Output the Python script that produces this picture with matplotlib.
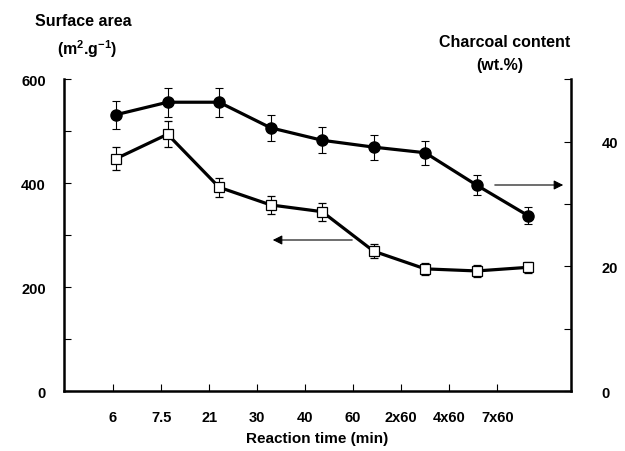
import numpy as np
import matplotlib
matplotlib.use("Agg")
import matplotlib.pyplot as plt

plt.rcParams['font.family'] = ['Liberation Sans', 'DejaVu Sans']
plt.rcParams['font.weight'] = 'bold'
plt.rcParams['mathtext.fontset'] = 'custom'
plt.rcParams['mathtext.bf'] = 'Liberation Sans:bold'
plt.rcParams['mathtext.rm'] = 'Liberation Sans:bold'
plt.rcParams['mathtext.default'] = 'bf'

# data
time_labels = ["6", "7.5", "21", "30", "40", "60", "2x60", "4x60", "7x60"]
surface_area = [447, 494, 392, 358, 345, 269, 235, 231, 238]
surface_err = [22, 25, 18, 17, 17, 13, 11, 11, 11]
charcoal = [44.3, 46.3, 46.3, 42.2, 40.2, 39.1, 38.2, 33.0, 28.1]
charcoal_err = [2.25, 2.3, 2.3, 2.1, 2.1, 2.0, 1.9, 1.65, 1.4]

x = np.arange(len(time_labels))
# tick marks in the original sit on a slightly tighter grid than the points
tick_pos = -0.058 + 0.932 * x

fig = plt.figure(figsize=(6.25, 4.52), dpi=100)
ax = fig.add_axes([0.1024, 0.1327, 0.8112, 0.690])
ax2 = ax.twinx()

ax.errorbar(x, surface_area, yerr=surface_err, color='black', lw=2.3,
            marker='s', ms=6.5, mfc='white', mec='black', mew=0.9,
            ecolor='black', elinewidth=0.8, capsize=3, capthick=0.8, zorder=3)
ax2.errorbar(x, charcoal, yerr=charcoal_err, color='black', lw=2.3,
             marker='o', ms=8, mfc='black', mec='black',
             ecolor='black', elinewidth=0.8, capsize=3, capthick=0.8, zorder=3)

ax.set_xlim(-1.01, 8.83)
ax.set_ylim(0, 600)
ax2.set_ylim(0, 50)

fs = 10.5
ax.set_xticks(tick_pos)
ax.set_xticklabels(time_labels, fontsize=fs, fontweight='bold')
ax.set_yticks([0, 100, 200, 300, 400, 500, 600])
ax.set_yticklabels(["0", "", "200", "", "400", "", "600"], fontsize=fs, fontweight='bold')
ax2.set_yticks([0, 10, 20, 30, 40, 50])
ax2.set_yticklabels(["0", "", "20", "", "40", ""], fontsize=fs, fontweight='bold')

for a in (ax, ax2):
    a.spines['top'].set_visible(False)
    for s in a.spines.values():
        s.set_linewidth(1.8)
ax.spines['right'].set_visible(False)
ax2.spines['left'].set_visible(False)
ax2.spines['bottom'].set_visible(False)

ax.tick_params(axis='y', direction='in', length=5, width=0.8, pad=13)
ax.tick_params(axis='x', direction='in', length=5, width=0.8, pad=14)
ax2.tick_params(axis='y', direction='in', length=5, width=0.8, pad=22)

ax.set_xlabel("Reaction time (min)", fontsize=11, fontweight='bold', labelpad=5)

fig.text(0.133, 0.952, "Surface area", fontsize=11.5, fontweight='bold', ha='center', va='center')
fig.text(0.139, 0.891, r"(m$^{2}$.g$^{-1}$)", fontsize=11.5, fontweight='bold', ha='center', va='center')
fig.text(0.808, 0.907, "Charcoal content", fontsize=11.5, fontweight='bold', ha='center', va='center')
fig.text(0.80, 0.856, "(wt.%)", fontsize=11.5, fontweight='bold', ha='center', va='center')

# arrows pointing to the axis each curve belongs to
ax.annotate("", xy=(566 / 625, 1 - 186 / 452), xytext=(492 / 625, 1 - 186 / 452),
            xycoords='figure fraction', textcoords='figure fraction',
            arrowprops=dict(arrowstyle='-|>', color='black', lw=0.8, mutation_scale=14))
ax.annotate("", xy=(270 / 625, 1 - 241 / 452), xytext=(355 / 625, 1 - 241 / 452),
            xycoords='figure fraction', textcoords='figure fraction',
            arrowprops=dict(arrowstyle='-|>', color='black', lw=0.8, mutation_scale=14))

fig.savefig("out.png", dpi=100)
